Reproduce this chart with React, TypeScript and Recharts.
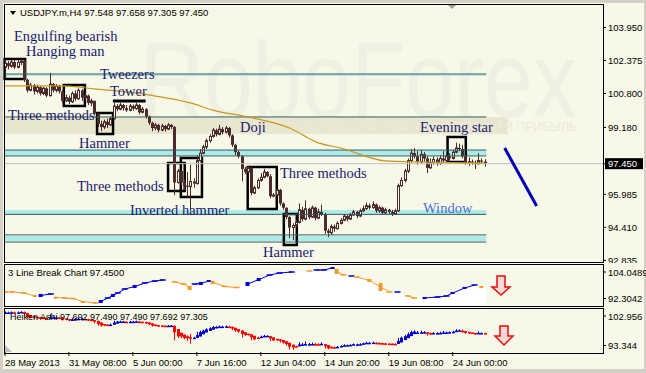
import React from "react";
import {
  ComposedChart,
  Bar,
  Line,
  Area,
  XAxis,
  YAxis,
  ReferenceArea,
  ReferenceLine
} from "recharts";

const IVORY = "#f8f8e8";
const CANDLE = "#4a2a2a";
const ZONE = "#aeeaea";
const ZONE_LINE = "#2f5c5c";
const MA_COLOR = "#c8961c";
const HA_UP = "#0000d0";
const HA_DOWN = "#ff0000";
const LB_UP = "#0000d8";
const LB_DOWN = "#f29b2a";
const LABEL = "#1a1a70";
const SANS = "'Liberation Sans', Arial, sans-serif";
const SERIF = "'Liberation Serif', 'Times New Roman', serif";
const X_DOMAIN: [number, number] = [-0.3, 187];

// USDJPY H4, bar 0 = 28 May 2013 00:00
const firstOpen = 102.05;
const closes = [
  102.25, 102.10, 102.30, 102.05, 102.28, 102.35, 101.45,
  100.95, 101.20, 100.90, 101.10, 100.80, 101.05, 100.70, 101.25, 100.95, 101.15, 100.90,
  100.45, 100.60, 100.40, 100.80, 100.55, 100.95, 100.60,
  100.70, 100.35, 100.45, 99.85,
  99.35, 99.20, 99.45, 99.30, 99.60,
  100.20, 100.05, 100.25, 100.10, 100.00, 100.20, 100.08, 100.25, 99.90, 100.05, 99.70,
  99.40, 99.15, 99.30, 99.05, 99.25, 99.10, 99.30, 99.20,
  96.55, 97.10, 96.55, 96.40, 96.35, 96.60, 96.50, 97.60, 97.95, 98.25, 98.55, 98.75,
  99.05, 98.85, 99.10, 98.95, 99.15, 98.80, 98.35, 98.00, 97.80, 97.20, 97.05, 97.25,
  96.05, 96.30, 96.65, 96.80, 97.05, 96.85, 95.90, 95.95, 96.20, 95.55, 95.35,
  94.90, 94.40, 94.50, 94.65, 95.25, 94.80, 95.30, 94.90, 95.35, 94.85, 95.15, 95.05,
  94.25, 94.15, 94.45, 94.35, 94.60, 94.75, 94.95, 94.80, 95.00, 95.15, 94.95, 95.20,
  95.30, 95.45, 95.35, 95.50, 95.20, 95.35, 95.10, 95.25, 95.15, 95.05, 95.20,
  96.40, 96.65, 97.10, 97.60, 97.95,
  97.80, 97.55, 97.90, 97.70, 97.25, 97.50, 97.65, 97.45, 97.70, 97.60, 97.80, 97.70,
  98.00, 98.20, 98.15, 97.80, 97.50, 97.55, 97.50, 97.45, 97.60, 97.55, 97.45
];
const highs = [
  102.40, 102.35, 102.42, 102.38, 102.40, 102.45, 102.40,
  101.50, 101.30, 101.25, 101.22, 101.15, 101.12, 101.10, 101.78, 101.30, 101.25, 101.22,
  100.95, 100.75, 100.70, 100.90, 100.95, 101.05, 101.00,
  100.85, 100.75, 100.55, 100.45,
  99.80, 99.50, 99.55, 99.60, 99.70,
  100.35, 100.30, 100.35, 100.30, 100.25, 100.30, 100.28, 100.35, 100.30, 100.15, 100.10,
  99.75, 99.45, 99.40, 99.35, 99.35, 99.30, 99.40, 99.35,
  99.25, 97.20, 97.15, 96.70, 97.05, 97.40, 96.75, 97.85, 98.15, 98.35, 98.65, 98.85,
  99.15, 99.12, 99.30, 99.20, 99.25, 99.20, 98.85, 98.40, 98.10, 97.85, 97.30, 97.35,
  97.30, 96.40, 96.75, 97.00, 97.20, 97.10, 96.95, 96.05, 96.25, 96.25, 95.60,
  95.35, 94.95, 94.60, 94.75, 95.55, 95.40, 95.70, 95.35, 95.45, 95.40, 95.30, 95.50,
  95.10, 94.35, 94.55, 94.55, 94.70, 94.85, 95.05, 95.00, 95.10, 95.25, 95.20, 95.30,
  95.45, 95.60, 95.55, 95.65, 95.55, 95.45, 95.40, 95.35, 95.30, 95.25, 95.30,
  96.50, 96.80, 97.20, 97.70, 98.15,
  98.20, 98.05, 98.10, 98.00, 97.80, 97.70, 97.80, 97.75, 97.85, 98.05, 97.90, 97.95,
  98.10, 98.45, 98.40, 98.35, 97.85, 97.75, 97.65, 97.60, 97.95, 97.70, 97.66
];
const lows = [
  101.98, 101.95, 102.02, 101.96, 102.00, 102.15, 101.35,
  100.85, 100.90, 100.75, 100.80, 100.70, 100.72, 100.62, 100.65, 100.85, 100.85, 100.80,
  100.35, 100.40, 100.30, 100.35, 100.45, 100.50, 100.45,
  100.50, 100.25, 100.20, 99.75,
  99.20, 99.00, 99.10, 99.15, 99.25,
  99.55, 99.95, 100.00, 99.98, 99.92, 99.95, 99.98, 100.02, 99.80, 99.85, 99.60,
  99.30, 99.00, 99.05, 98.95, 99.00, 98.98, 99.05, 99.10,
  95.95, 96.50, 96.40, 96.20, 95.85, 95.20, 96.30, 96.45, 97.55, 97.90, 98.15, 98.45,
  98.70, 98.75, 98.80, 98.85, 98.90, 98.70, 98.25, 97.85, 97.70, 96.60, 96.95, 97.00,
  95.95, 96.00, 96.25, 96.60, 96.75, 96.80, 95.80, 95.85, 95.90, 95.45, 95.25,
  94.80, 93.90, 93.80, 94.40, 94.60, 94.70, 94.75, 94.80, 94.85, 94.75, 94.80, 94.95,
  94.10, 93.95, 94.05, 94.20, 94.30, 94.55, 94.70, 94.70, 94.78, 94.95, 94.85, 94.90,
  95.15, 95.25, 95.25, 95.30, 95.10, 95.10, 95.00, 95.05, 95.05, 94.95, 95.00,
  95.15, 96.35, 96.55, 97.00, 97.50,
  97.70, 97.40, 97.45, 97.55, 97.00, 97.20, 97.40, 97.35, 97.40, 97.50, 97.55, 97.60,
  97.65, 97.95, 98.05, 97.70, 97.40, 97.35, 97.40, 97.20, 97.40, 97.45, 97.31
];

// moving average read at a few bars
const maBars = [0, 18, 28, 45, 58, 65, 76, 89, 98, 105, 119, 130, 150];
const maValues = [101.16, 101.16, 101.02, 100.73, 100.35, 100.01, 99.68, 99.15, 98.44, 98.2, 97.58, 97.53, 97.48];

const priceTicks = [92.835, 94.41, 95.985, 97.45, 99.18, 100.8, 102.375, 103.95];
const lastPrice = 97.45;

const timeBars = [0, 20, 40, 60, 80, 100, 120, 140];
const timeLabels = [
  "28 May 2013", "31 May 08:00", "5 Jun 00:00", "7 Jun 16:00",
  "12 Jun 04:00", "14 Jun 20:00", "19 Jun 08:00", "24 Jun 00:00"
];

// support / resistance zones [top, bottom] and their lines
const zoneEnd = 150.5;
const zones = [[101.71, 101.64], [98.10, 97.84], [95.24, 95.05], [94.0, 93.76]];
const levelLines = [101.73, 99.68, 98.10, 97.82, 95.03, 94.05, 93.71];

// pattern boxes: bar range and price range
const boxBars = [[-0.1, 6.3], [18.4, 25], [28.8, 33.8], [51, 56.2], [55, 61.6], [75.9, 85], [87.2, 91.25], [138.4, 144.1]];
const boxPrices = [[102.45, 101.49], [101.2, 100.2], [99.87, 98.87], [97.48, 96.15], [97.72, 95.86], [97.29, 95.29], [95.05, 93.57], [98.72, 97.53]];
const towerBars = [33.75, 44];
const towerPrice = 100.44;
const forecastBars = [156.25, 166.25];
const forecastPrices = [98.2, 95.43];

const patternNames = [
  "Engulfing bearish", "Hanging man", "Tweezers", "Tower", "Three methods", "Hammer", "Doji",
  "Evening star", "Three methods", "Inverted hammer", "Three methods", "Window", "Hammer"
];
const patternX = [14, 26, 100, 110, 8, 79, 240, 420, 77, 130, 280, 423, 263];
const patternY = [41, 56, 79, 96, 120, 148, 132, 132, 191, 215, 178, 213, 257];

// 3 Line Break sub-window
const lbDomain: [number, number] = [92.3042, 104.0489];
const lbBars = [0, 2.2, 5.9, 9.4, 11.2, 14.4, 15.9, 18.8, 21.2, 24.4, 28.4, 30, 32.2, 33.8, 35.3, 37.5, 40.6, 43.8, 46.9, 49.4, 53.1, 55.9, 57.8, 59.4, 61.3, 63.8, 65, 68.8, 72.5, 75.9, 79.4, 82.8, 85.9, 89.7, 95.3, 97.5, 99.7, 102.5, 103.75, 105.9, 108.4, 110, 114, 117.5, 120.3, 122.8, 126, 128, 131.25, 135.3, 138.1, 140, 143.75, 146.9, 149];
const lbValues = [96.12, 96.12, 95.83, 94.95, 95.10, 95.54, 94.51, 94.36, 94.21, 93.33, 92.89, 93.33, 94.36, 95.10, 95.83, 97.00, 97.74, 98.77, 99.35, 99.65, 99.06, 98.47, 97.30, 98.47, 98.62, 99.35, 98.91, 97.74, 97.44, 98.47, 99.79, 101.11, 101.70, 101.99, 102.29, 102.58, 102.58, 103.17, 102.14, 101.11, 100.82, 100.53, 99.50, 97.59, 96.12, 96.12, 94.95, 94.36, 94.36, 94.65, 94.95, 95.83, 97.30, 98.18, 97.59];
const lbDir = "ddddu" + "udddd" + "duuuu" + "uuuuu" + "ddduu" + "udddu" + "uuuud" + "uuudd" + "udddd" + "udduu" + "uuuud";
const lbBricks = [0, 0, 0, 0.6, 0.9, 0, 0.45, 0, 0, 0.3, 0, 0.9, 0, 0.9, 0, 0, 0.9, 0, 0, 0, 0, 0, 1.2, 0, 0.9, 0.6, 0.9, 0, 0, 1.2, 0.9, 0, 0, 0, 0, 0, 0, 0.6, 1.5, 0, 0, 0, 0.9, 2.35, 0, 0, 0, 0, 0.6, 0, 0, 0.6, 0.6, 0, 0.6];
const lbEndBar = 150.5;

const haDomain: [number, number] = [93.344, 102.956];

const candles = closes.map((c, i) => {
  const o = i === 0 ? firstOpen : closes[i - 1];
  return { i, o, c, h: Math.max(highs[i], o, c), l: Math.min(lows[i], o, c) };
});

const heiken = (() => {
  const out: { i: number; o: number; c: number; h: number; l: number }[] = [];
  let pO = 0;
  let pC = 0;
  candles.forEach((k, idx) => {
    const hc = (k.o + k.h + k.l + k.c) / 4;
    const ho = idx === 0 ? (k.o + k.c) / 2 : (pO + pC) / 2;
    out.push({ i: k.i, o: ho, c: hc, h: Math.max(k.h, ho, hc), l: Math.min(k.l, ho, hc) });
    pO = ho;
    pC = hc;
  });
  return out;
})();

const maData = maBars.map((b, k) => ({ i: b, ma: maValues[k] }));

const lbData = lbBars.map((b, k) => {
  const up = lbDir[k] === "u";
  return {
    i: b,
    v: lbValues[k],
    up,
    brick: lbBricks[k],
    vUp: up ? lbValues[k] : null,
    vDn: up ? null : lbValues[k]
  };
});
const lbArea = [...lbData.map(d => ({ i: d.i, v: d.v })), { i: lbEndBar, v: lbValues[lbValues.length - 1] }];

function Candle(props: any) {
  const { x, y, width, height, payload } = props;
  if (!payload) return null;
  const top = Math.min(y, y + height);
  const hp = Math.abs(height);
  const span = payload.h - payload.l || 1;
  const yOf = (v: number) => top + ((payload.h - v) / span) * hp;
  const cx = Math.round(x + width / 2) + 0.5;
  const bTop = yOf(Math.max(payload.o, payload.c));
  const bH = Math.max(yOf(Math.min(payload.o, payload.c)) - bTop, 1);
  const up = payload.c > payload.o;
  return (
    <g>
      <line x1={cx} x2={cx} y1={top} y2={top + hp} stroke={CANDLE} strokeWidth={1} />
      {up ? (
        <rect x={cx - 1} y={bTop} width={2} height={bH} fill={IVORY} stroke={CANDLE} strokeWidth={1} />
      ) : (
        <rect x={cx - 1.5} y={bTop} width={3} height={bH} fill={CANDLE} />
      )}
    </g>
  );
}

function HaCandle(props: any) {
  const { x, y, width, height, payload } = props;
  if (!payload) return null;
  const top = Math.min(y, y + height);
  const hp = Math.abs(height);
  const span = payload.h - payload.l || 1;
  const yOf = (v: number) => top + ((payload.h - v) / span) * hp;
  const cx = Math.round(x + width / 2) + 0.5;
  const color = payload.c >= payload.o ? HA_UP : HA_DOWN;
  const bTop = yOf(Math.max(payload.o, payload.c));
  const bH = Math.max(yOf(Math.min(payload.o, payload.c)) - bTop, 1.5);
  return (
    <g>
      <line x1={cx} x2={cx} y1={top} y2={top + hp} stroke={color} strokeWidth={1} />
      <rect x={cx - 1.5} y={bTop} width={3} height={bH} fill={color} />
    </g>
  );
}

function LbMark(props: any) {
  const { x, y, width, height, payload } = props;
  if (!payload) return null;
  const color = payload.up ? LB_UP : LB_DOWN;
  const cx = x + width / 2;
  const top = Math.min(y, y + height);
  const hp = Math.abs(height);
  if (payload.brick > 0) {
    return <rect x={cx - 2} y={top} width={4} height={Math.max(hp, 2)} fill={color} />;
  }
  return <rect x={cx - 3} y={top + hp / 2 - 0.75} width={6} height={1.5} fill={color} />;
}

function PriceTick(props: any) {
  const { x, y, payload } = props;
  const cur = payload.value === lastPrice;
  return (
    <g>
      <line x1={x} x2={x + 3} y1={y} y2={y} stroke="#000" />
      {cur && <rect x={x + 2} y={y - 5.5} width={38} height={11} fill="#000" />}
      <text x={x + 5} y={y + 3.5} fontSize={9.5} fontFamily={SANS} fill={cur ? "#fff" : "#000"}>
        {payload.value.toFixed(3)}
      </text>
    </g>
  );
}

function SubTick(props: any) {
  const { x, y, payload, hi, digits, topShift, botShift } = props;
  const cy = payload.value === hi ? y + topShift : y - botShift;
  return (
    <g>
      <line x1={x} x2={x + 3} y1={cy} y2={cy} stroke="#000" />
      <text x={x + 5} y={cy + 3.5} fontSize={9.5} fontFamily={SANS} fill="#000">
        {payload.value.toFixed(digits)}
      </text>
    </g>
  );
}

function TimeTick(props: any) {
  const { x, y, payload } = props;
  const k = timeBars.indexOf(payload.value);
  return (
    <text x={x} y={y + 10} fontSize={9.5} fontFamily={SANS} fill="#000" textAnchor="start">
      {timeLabels[k]}
    </text>
  );
}

const abs = (left: number, top: number): React.CSSProperties => ({ position: "absolute", left, top });

export default function App() {
  return (
    <div style={{ position: "absolute", left: 0, top: 0, width: 646, height: 373, background: "#d4d0c8", overflow: "hidden" }}>
      <div style={{ position: "absolute", left: 3, top: 3, width: 641, height: 366, background: IVORY }} />

      {/* watermark */}
      <svg width={646} height={373} style={abs(0, 0)}>
        <rect x={4} y={117} width={504} height={17} fill="#e8e6ce" />
        <text x={140} y={117} fontSize={108} fontFamily={SANS} fill="#f0f0e2" textLength={437} lengthAdjust="spacingAndGlyphs">
          RoboForex
        </text>
        <text x={300} y={131} fontSize={12.5} fontFamily={SANS} fill="#ebebda" textLength={277} lengthAdjust="spacingAndGlyphs">
          ИСПОЛЬЗУЙ РОБОТОВ И ПОЛУЧАЙ ПРИБЫЛЬ
        </text>
      </svg>

      {/* main window */}
      <div style={abs(0, 0)}>
        <ComposedChart width={646} height={263} data={candles} margin={{ top: 5, right: 0, bottom: 1, left: 4 }}>
          <XAxis type="number" dataKey="i" domain={X_DOMAIN} hide allowDataOverflow />
          <YAxis
            orientation="right"
            width={43}
            domain={[92.757, 105.024]}
            allowDataOverflow
            ticks={priceTicks}
            interval={0}
            tickSize={0}
            tickMargin={0}
            axisLine={false}
            tickLine={false}
            tick={<PriceTick />}
          />
          {zones.map(([top, bot], k) => (
            <ReferenceArea key={"z" + k} x1={X_DOMAIN[0]} x2={zoneEnd} y1={bot} y2={top} fill={ZONE} fillOpacity={1} stroke="none" />
          ))}
          {levelLines.map((p, k) => (
            <ReferenceLine key={"l" + k} segment={[{ x: X_DOMAIN[0], y: p }, { x: zoneEnd, y: p }]} stroke={ZONE_LINE} strokeWidth={1} />
          ))}
          <ReferenceLine y={lastPrice} stroke="#c0c0c0" strokeWidth={1} />
          <Line data={maData} dataKey="ma" type="monotone" stroke={MA_COLOR} strokeWidth={1.2} dot={false} isAnimationActive={false} />
          <Bar dataKey={(d: any) => [d.l, d.h]} barSize={3} shape={(p: any) => <Candle {...p} />} isAnimationActive={false} />
          {boxBars.map(([a, b], k) => (
            <ReferenceArea key={"b" + k} x1={a} x2={b} y1={boxPrices[k][1]} y2={boxPrices[k][0]} fill="none" stroke="#000" strokeWidth={2.5} />
          ))}
          <ReferenceLine segment={[{ x: towerBars[0], y: towerPrice }, { x: towerBars[1], y: towerPrice }]} stroke="#000" strokeWidth={3} />
          <ReferenceLine
            segment={[{ x: forecastBars[0], y: forecastPrices[0] }, { x: forecastBars[1], y: forecastPrices[1] }]}
            stroke="#0000b4"
            strokeWidth={3}
          />
        </ComposedChart>
      </div>

      {/* 3 line break window */}
      <div style={abs(0, 264)}>
        <ComposedChart width={646} height={42} data={lbData} margin={{ top: 1, right: 0, bottom: 1, left: 4 }}>
          <XAxis type="number" dataKey="i" domain={X_DOMAIN} hide allowDataOverflow />
          <YAxis
            orientation="right"
            width={43}
            domain={lbDomain}
            allowDataOverflow
            ticks={lbDomain}
            interval={0}
            tickSize={0}
            tickMargin={0}
            axisLine={false}
            tickLine={false}
            tick={<SubTick hi={lbDomain[1]} digits={4} topShift={7} botShift={6.5} />}
          />
          <Area data={lbArea} dataKey="v" type="linear" fill="#ffffff" fillOpacity={1} stroke="none" isAnimationActive={false} />
          <Line dataKey="vUp" type="linear" stroke={LB_UP} strokeWidth={1} dot={false} connectNulls={false} isAnimationActive={false} />
          <Line dataKey="vDn" type="linear" stroke={LB_DOWN} strokeWidth={1} dot={false} connectNulls={false} isAnimationActive={false} />
          <Bar
            dataKey={(d: any) => [d.v - Math.max(d.brick, 0.3) / 2, d.v + Math.max(d.brick, 0.3) / 2]}
            barSize={5}
            shape={(p: any) => <LbMark {...p} />}
            isAnimationActive={false}
          />
        </ComposedChart>
      </div>

      {/* heiken ashi window + time axis */}
      <div style={abs(0, 308)}>
        <ComposedChart width={646} height={65} data={heiken} margin={{ top: 1, right: 0, bottom: 0, left: 4 }}>
          <XAxis
            type="number"
            dataKey="i"
            domain={X_DOMAIN}
            allowDataOverflow
            ticks={timeBars}
            interval={0}
            height={21}
            tickSize={4}
            tickMargin={0}
            axisLine={false}
            tickLine={{ stroke: "#000" }}
            tick={<TimeTick />}
          />
          <YAxis
            orientation="right"
            width={43}
            domain={haDomain}
            allowDataOverflow
            ticks={haDomain}
            interval={0}
            tickSize={0}
            tickMargin={0}
            axisLine={false}
            tickLine={false}
            tick={<SubTick hi={haDomain[1]} digits={3} topShift={7} botShift={6.5} />}
          />
          <Bar dataKey={(d: any) => [d.l, d.h]} barSize={3} shape={(p: any) => <HaCandle {...p} />} isAnimationActive={false} />
        </ComposedChart>
      </div>

      {/* window frames */}
      <div style={{ ...abs(4, 4), width: 600, height: 259, border: "1px solid #000", boxSizing: "border-box" }} />
      <div style={{ ...abs(4, 264), width: 600, height: 43, border: "1px solid #000", boxSizing: "border-box" }} />
      <div style={{ ...abs(4, 308), width: 600, height: 46, border: "1px solid #000", boxSizing: "border-box" }} />

      {/* texts and markers */}
      <svg width={646} height={373} style={{ ...abs(0, 0), pointerEvents: "none" }}>
        <polygon points="10,11 16,11 13,15" fill="#000" />
        <text x={20} y={16} fontSize={9.5} fontFamily={SANS} fill="#000">
          USDJPY.m,H4  97.548 97.658 97.305 97.450
        </text>
        <polygon points="448,5 456,5 452,9" fill="#a0a0a0" />
        {patternNames.map((t, k) => (
          <text key={"p" + k} x={patternX[k]} y={patternY[k]} fontSize={14.5} fontFamily={SERIF} fill={t === "Window" ? "#4a6fd8" : LABEL}>
            {t}
          </text>
        ))}
        <text x={8} y={276} fontSize={9.5} fontFamily={SANS} fill="#000">3 Line Break Chart 97.4500</text>
        <text x={10} y={320} fontSize={9} fontFamily={SANS} fill="#000">Heiken Ashi 97.692 97.490 97.490 97.692 97.305</text>
        <polygon points="497,276 505,276 505,287 510,287 501,295 492,287 497,287" fill="#ffd8d8" stroke="#e01010" strokeWidth={1.5} />
        <polygon points="500,326 508,326 508,336 513,336 504,345 495,336 500,336" fill="#ffd8d8" stroke="#e01010" strokeWidth={1.5} />
        <polygon points="5,345 5,352 12,352" fill="#c0c0c0" />
      </svg>
    </div>
  );
}
